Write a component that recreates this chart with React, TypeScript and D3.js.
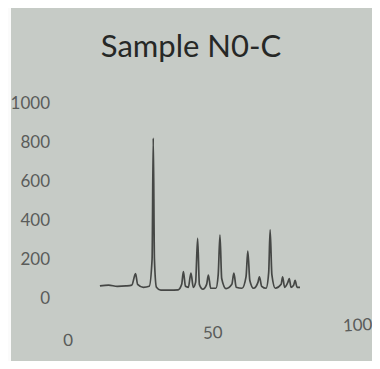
import React from "react";
import * as d3 from "d3";

const W = 380, H = 369;

// 2-theta positions and intensities
const twoTheta = [
  11, 14, 17, 20, 22, 23.3, 24, 26, 28, 29.0, 29.4, 29.8, 30.5, 32, 35, 38,
  39.2, 39.8, 40.5, 41.5, 42.4, 43.2, 44.0, 44.7, 45.3, 46.5, 47.8, 48.4, 49.2,
  51.0, 51.8, 52.4, 53.0, 54.5, 56.5, 57.2, 58.0, 60.0, 61.4, 62.0, 62.7, 64.0,
  65.5, 66.0, 66.8, 68.3, 69.2, 69.7, 70.3, 71.5, 73.5, 74.0, 74.7, 75.8, 76.3,
  76.9, 77.8, 78.3, 79.0, 80,
];
const intensity = [
  62, 66, 60, 62, 66, 125, 70, 55, 60, 200, 820, 200, 55, 40, 40, 42,
  70, 135, 60, 55, 128, 55, 80, 306, 70, 45, 70, 118, 50,
  50, 120, 323, 100, 48, 70, 128, 55, 50, 110, 241, 90, 50,
  80, 109, 60, 50, 130, 349, 120, 50, 70, 109, 55, 80, 100,
  55, 65, 90, 55, 55,
];
const yTicks = [0, 200, 400, 600, 800, 1000];
const xTicks = [0, 50, 100];
const title = "Sample N0-C";

const App = () => {
  const ref = React.useRef<SVGSVGElement>(null);

  React.useEffect(() => {
    const svg = d3.select(ref.current);
    svg.selectAll("*").remove();

    const x = d3.scaleLinear([0, 100], [68, 358]);
    const y = d3.scaleLinear([0, 1000], [298, 103]);
    const font = "Lato, sans-serif";

    // photo-like paper
    svg.append("rect").attr("width", W).attr("height", H).attr("fill", "#fbfbfb");
    svg.append("rect").attr("x", 11).attr("y", 5).attr("width", 363).attr("height", 357).attr("fill", "#c6cbc6");

    svg.append("text")
      .attr("x", 191).attr("y", 57)
      .attr("text-anchor", "middle")
      .attr("font-family", font)
      .attr("font-size", 31)
      .attr("fill", "#262826")
      .text(title);

    svg.append("g")
      .selectAll("text")
      .data(yTicks)
      .join("text")
      .attr("x", 50)
      .attr("y", d => y(d))
      .attr("dy", "0.35em")
      .attr("text-anchor", "end")
      .attr("font-family", font)
      .attr("font-size", 17)
      .attr("fill", "#5a5c5a")
      .text(d => d);

    svg.append("g")
      .attr("transform", "rotate(-3, 68, 340)")
      .selectAll("text")
      .data(xTicks)
      .join("text")
      .attr("x", d => x(d))
      .attr("y", 346)
      .attr("text-anchor", "middle")
      .attr("font-family", font)
      .attr("font-size", 17)
      .attr("fill", "#5a5c5a")
      .text(d => d);

    const pts = twoTheta.map((t, i) => [t, intensity[i]] as [number, number]);
    svg.append("path")
      .datum(pts)
      .attr("fill", "none")
      .attr("stroke", "#454745")
      .attr("stroke-width", 1.7)
      .attr("stroke-linejoin", "round")
      .attr("d", d3.line<[number, number]>()
        .x(d => x(d[0]))
        .y(d => y(d[1]))
        .curve(d3.curveMonotoneX));
  }, []);

  return <svg width={W} height={H} ref={ref} style={{ display: "block", margin: -8 }} />;
};

export default App;
